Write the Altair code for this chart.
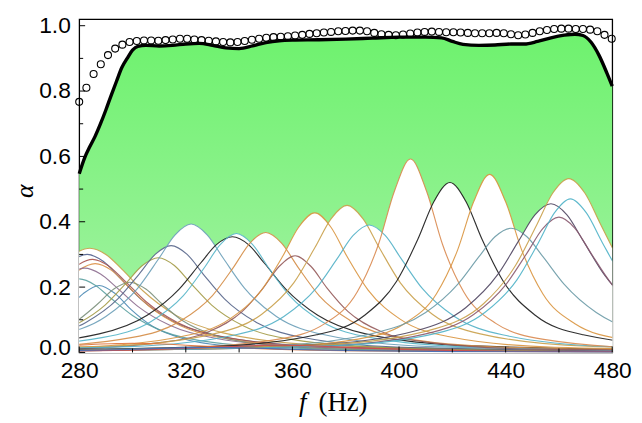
import altair as alt
import pandas as pd

# ---------------- data ----------------
# total absorption (thick black line)
BLACK_F = [280, 282, 284, 286, 288, 290, 292, 294, 296, 298, 300, 302, 305, 310, 315, 320,
           325, 330, 335, 340, 345, 350, 355, 360, 370, 380, 390, 400, 410, 416, 420, 424,
           430, 436, 442, 447, 452, 457, 462, 466, 469, 472, 475, 478, 480]
BLACK_A = [0.547, 0.595, 0.63, 0.662, 0.70, 0.742, 0.787, 0.83, 0.872, 0.90, 0.925, 0.937,
           0.94, 0.938, 0.94, 0.944, 0.946, 0.94, 0.932, 0.93, 0.938, 0.948, 0.954, 0.956,
           0.957, 0.959, 0.962, 0.965, 0.965, 0.963, 0.952, 0.943, 0.94, 0.941, 0.944, 0.944,
           0.952, 0.963, 0.971, 0.974, 0.97, 0.95, 0.91, 0.855, 0.815]

# measured points (open circles)
MEAS_F = [280.0, 282.7, 285.4, 288.1, 290.8, 293.5, 296.2, 298.9, 301.6, 304.3, 307.0, 309.7,
          312.4, 315.1, 317.8, 320.5, 323.2, 325.9, 328.6, 331.3, 334.0, 336.7, 339.4, 342.1,
          344.8, 347.5, 350.2, 352.9, 355.6, 358.3, 361.0, 363.7, 366.4, 369.1, 371.8, 374.5,
          377.2, 379.9, 382.6, 385.3, 388.0, 390.7, 393.4, 396.1, 398.8, 401.5, 404.2, 406.9,
          409.6, 412.3, 415.0, 417.7, 420.4, 423.1, 425.8, 428.5, 431.2, 433.9, 436.6, 439.3,
          442.0, 444.7, 447.4, 450.1, 452.8, 455.5, 458.2, 460.9, 463.6, 466.3, 469.0, 471.7,
          474.4, 477.1, 479.8]
MEAS_A = [0.767, 0.81, 0.852, 0.882, 0.91, 0.93, 0.942, 0.95, 0.953, 0.955, 0.955, 0.954,
          0.956, 0.958, 0.96, 0.96, 0.958, 0.956, 0.954, 0.952, 0.95, 0.949, 0.95, 0.953,
          0.957, 0.96, 0.963, 0.965, 0.966, 0.968, 0.97, 0.972, 0.975, 0.977, 0.979, 0.981,
          0.983, 0.984, 0.985, 0.985, 0.983, 0.978, 0.974, 0.972, 0.971, 0.973, 0.976, 0.979,
          0.981, 0.982, 0.981, 0.98, 0.98, 0.979, 0.978, 0.977, 0.977, 0.977, 0.978, 0.977,
          0.974, 0.971, 0.973, 0.978, 0.983, 0.987, 0.99, 0.991, 0.991, 0.99, 0.99, 0.988,
          0.983, 0.972, 0.96]

# individual resonator peaks: centre (Hz), colour, and alpha read at
# distances 0, 6, 12, 20, 32, 50, 90, 200 Hz from the centre (both sides)
PEAK_OFFSETS = [0, 6, 12, 20, 32, 50, 90, 200]
PEAK_CENTERS = [284.0, 283.0, 285.0, 286.0, 282.0, 287.5, 280.0, 299.0, 309.7, 314.5,
                322.0, 337.5, 339.0, 350.0, 361.0, 368.4, 380.5, 388.8, 404.3, 419.1,
                434.0, 442.0, 457.0, 460.0, 464.3, 463.7, 300.0, 355.0, 330.0]
PEAK_COLORS = ["#c9a04a", "#4f5d8c", "#a8524c", "#dc8f45", "#8c6b8e", "#4a88b4", "#5aa0a0",
               "#7a8f7a", "#a39a45", "#56658a", "#6a9fb8", "#1a1a1a", "#55b5c8", "#d48c45",
               "#955a5a", "#d9953f", "#c9a04a", "#52b0c6", "#d98a50", "#1a1a1a", "#d9953f",
               "#6a9aa6", "#4f4560", "#8a5a70", "#4fb3c8", "#c9a04a", "#e07035", "#d04a4a",
               "#3f6fc0"]
PEAK_VALUES = [
    [0.319, 0.300, 0.255, 0.188, 0.115, 0.060, 0.021, 0.0045],
    [0.300, 0.279, 0.231, 0.164, 0.096, 0.049, 0.017, 0.0036],
    [0.285, 0.265, 0.220, 0.156, 0.091, 0.046, 0.016, 0.0034],
    [0.272, 0.252, 0.205, 0.143, 0.082, 0.041, 0.014, 0.0030],
    [0.258, 0.240, 0.199, 0.141, 0.083, 0.042, 0.015, 0.0030],
    [0.205, 0.180, 0.131, 0.080, 0.041, 0.019, 0.0063, 0.0013],
    [0.225, 0.206, 0.165, 0.113, 0.063, 0.031, 0.011, 0.0022],
    [0.215, 0.194, 0.149, 0.096, 0.052, 0.025, 0.0083, 0.0017],
    [0.290, 0.266, 0.213, 0.145, 0.081, 0.040, 0.014, 0.0029],
    [0.327, 0.300, 0.240, 0.164, 0.092, 0.045, 0.015, 0.0032],
    [0.393, 0.360, 0.289, 0.197, 0.110, 0.054, 0.018, 0.0039],
    [0.354, 0.330, 0.273, 0.194, 0.114, 0.057, 0.020, 0.0042],
    [0.364, 0.331, 0.260, 0.173, 0.095, 0.046, 0.016, 0.0032],
    [0.367, 0.334, 0.262, 0.174, 0.096, 0.046, 0.016, 0.0033],
    [0.296, 0.263, 0.197, 0.124, 0.065, 0.031, 0.010, 0.0021],
    [0.427, 0.384, 0.295, 0.191, 0.102, 0.049, 0.016, 0.0034],
    [0.450, 0.409, 0.322, 0.213, 0.117, 0.057, 0.019, 0.0040],
    [0.390, 0.358, 0.287, 0.195, 0.110, 0.054, 0.018, 0.0039],
    [0.592, 0.494, 0.331, 0.185, 0.089, 0.040, 0.013, 0.0027],
    [0.520, 0.462, 0.347, 0.218, 0.114, 0.054, 0.018, 0.0037],
    [0.545, 0.461, 0.314, 0.179, 0.088, 0.040, 0.013, 0.0027],
    [0.380, 0.354, 0.293, 0.208, 0.122, 0.062, 0.021, 0.0046],
    [0.455, 0.421, 0.343, 0.238, 0.137, 0.068, 0.023, 0.0050],
    [0.414, 0.380, 0.304, 0.207, 0.116, 0.057, 0.019, 0.0041],
    [0.470, 0.427, 0.336, 0.223, 0.123, 0.059, 0.020, 0.0042],
    [0.532, 0.488, 0.391, 0.266, 0.149, 0.073, 0.025, 0.0053],
    [0.028, 0.027, 0.026, 0.022, 0.017, 0.011, 0.0046, 0.0010],
    [0.022, 0.0215, 0.020, 0.0176, 0.0134, 0.0086, 0.0036, 0.0008],
    [0.015, 0.0147, 0.0138, 0.012, 0.0092, 0.0059, 0.0025, 0.0006],
]

X_TICKS = [280, 320, 360, 400, 440, 480]
X_MINOR = [300, 340, 380, 420, 460]
Y_TICKS = [0.0, 0.2, 0.4, 0.6, 0.8, 1.0]
Y_MINOR = [0.1, 0.3, 0.5, 0.7, 0.9]

# ---------------- tables ----------------
black_df = pd.DataFrame({"f": BLACK_F, "a": BLACK_A})
meas_df = pd.DataFrame({"f": MEAS_F, "a": MEAS_A})
rows = []
for i, (c, vals) in enumerate(zip(PEAK_CENTERS, PEAK_VALUES)):
    offs = [-o for o in PEAK_OFFSETS[::-1]] + PEAK_OFFSETS[1:]
    vv = vals[::-1] + vals[1:]
    for o, v in zip(offs, vv):
        rows.append({"f": c + o, "a": v, "curve": i})
peaks_df = pd.DataFrame(rows).sort_values(["curve", "f"])

W, H = 539, 337
xs = alt.Scale(domain=[280, 480], nice=False, zero=False)
ys = alt.Scale(domain=[0, 1.02], nice=False, zero=False)

X = alt.X("f:Q", scale=xs,
          axis=alt.Axis(values=X_TICKS, ticks=False, tickSize=0, domain=False, grid=False,
                        labelFont="Liberation Sans", labelFontSize=23, labelColor="black",
                        labelPadding=7, labelFlush=False, title=None))
Y = alt.Y("a:Q", scale=ys, stack=None,
          axis=alt.Axis(values=Y_TICKS, format=".1f", ticks=False, tickSize=0, domain=False,
                        grid=False, labelFont="Liberation Sans", labelFontSize=23,
                        labelColor="black", labelPadding=9,
                        labelOffset={"condition": {"test": "datum.value === 0", "value": -5},
                                     "value": 0},
                        title=None))

green = alt.Chart(black_df).mark_area(
    interpolate="monotone",
    color=alt.Gradient(gradient="linear",
                       stops=[alt.GradientStop(color="#6ef26e", offset=0),
                              alt.GradientStop(color="#a8f2a8", offset=1)],
                       x1=0, x2=0, y1=0, y2=1),
).encode(x=X, y=Y)

white = alt.Chart(peaks_df).mark_area(
    interpolate="monotone", color="white", opacity=1, clip=True
).encode(x=X, y=Y, detail="curve:N")

lines = alt.Chart(peaks_df).mark_line(
    interpolate="monotone", strokeWidth=1.15, clip=True, opacity=0.9
).encode(x=X, y=Y,
         color=alt.Color("curve:N", legend=None,
                         scale=alt.Scale(domain=list(range(len(PEAK_CENTERS))),
                                         range=PEAK_COLORS)))

total = alt.Chart(black_df).mark_line(
    interpolate="monotone", color="black", strokeWidth=3.4
).encode(x=X, y=Y)

circles = alt.Chart(meas_df).mark_point(
    shape="circle", filled=False, color="black", size=50, strokeWidth=1.1, opacity=1
).encode(x=X, y=Y)

xt = alt.Chart(pd.DataFrame({"f": X_TICKS})).mark_rule(color="black", strokeWidth=1).encode(
    x=X, y=alt.value(H), y2=alt.value(H - 6))
xm = alt.Chart(pd.DataFrame({"f": X_MINOR})).mark_rule(color="black", strokeWidth=1).encode(
    x=X, y=alt.value(H), y2=alt.value(H - 4))
yt = alt.Chart(pd.DataFrame({"a": Y_TICKS})).mark_rule(color="black", strokeWidth=1).encode(
    y=Y, x=alt.value(0), x2=alt.value(6))
ym = alt.Chart(pd.DataFrame({"a": Y_MINOR})).mark_rule(color="black", strokeWidth=1).encode(
    y=Y, x=alt.value(0), x2=alt.value(4))

title_f = alt.Chart(pd.DataFrame({"t": ["f"]})).mark_text(
    font="Liberation Serif", fontSize=27, fontStyle="italic", align="center",
    baseline="middle", color="black"
).encode(text="t:N", x=alt.value(226), y=alt.value(388))
title_hz = alt.Chart(pd.DataFrame({"t": ["(Hz)"]})).mark_text(
    font="Liberation Serif", fontSize=27, align="left", baseline="middle", color="black"
).encode(text="t:N", x=alt.value(242), y=alt.value(388))
title_a = alt.Chart(pd.DataFrame({"t": ["α"]})).mark_text(
    font="Liberation Serif", fontSize=26, fontStyle="italic", align="center",
    baseline="middle", angle=270, color="black"
).encode(text="t:N", x=alt.value(-55), y=alt.value(174))

chart = alt.layer(
    green, white, lines, total, circles, xt, xm, yt, ym, title_f, title_hz, title_a
).properties(
    width=W, height=H,
    autosize=alt.AutoSizeParams(type="none"),
    padding={"left": 72, "top": 9, "right": 22, "bottom": 66},
).configure_view(stroke="black", strokeWidth=1.3)

chart.save("out.html", embed_options={"renderer": "svg", "actions": False})
